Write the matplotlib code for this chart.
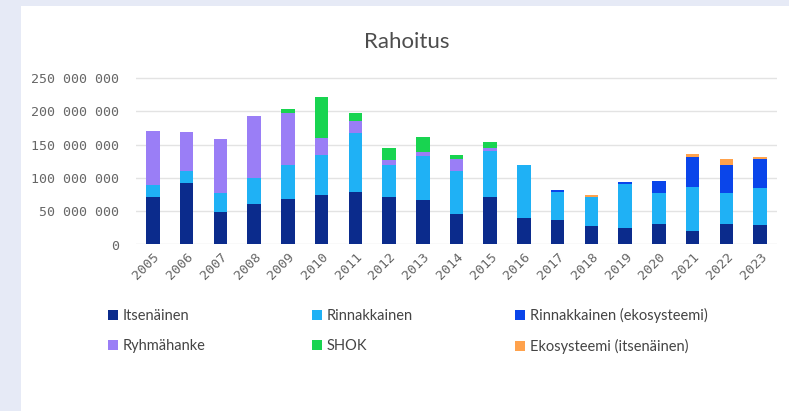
import matplotlib
matplotlib.use("Agg")
import matplotlib.pyplot as plt
from matplotlib.patches import Patch, Rectangle
from matplotlib.ticker import FuncFormatter
import numpy as np

# ---- data (millions of euros) ----
years = [str(y) for y in range(2005, 2024)]
itsenainen = [72, 92, 49, 60, 68, 75, 79, 72, 67, 46, 72, 39, 37, 27, 24, 30, 20, 30, 29]
rinnakkainen = [17, 18, 28, 40, 52, 59, 89, 47, 66, 64, 69, 81, 41.5, 44.4, 66.5, 48, 66.7, 47, 56.5]
rinnakkainen_eko = [0, 0, 0, 0, 0, 0, 0, 0, 0, 0, 0, 0, 3.5, 0, 2.7, 17.5, 45, 43, 42.5]
ryhmahanke = [81.7, 59.3, 81, 92.7, 77, 25.5, 18, 7.3, 6, 17.7, 4, 0, 0, 0, 0, 0, 0, 0, 0]
shok = [0, 0, 0, 0, 6.7, 61.5, 12, 18, 22, 7.3, 8, 0, 0, 0, 0, 0, 0, 0, 0]
ekosysteemi = [0, 0, 0, 0, 0, 0, 0, 0, 0, 0, 0, 0, 0, 3.5, 0, 0, 4, 8, 3.5]

series = [
    ("Itsenäinen", itsenainen, "#0b2b8c"),
    ("Rinnakkainen", rinnakkainen, "#1fb1f5"),
    ("Rinnakkainen (ekosysteemi)", rinnakkainen_eko, "#0a45ea"),
    ("Ryhmähanke", ryhmahanke, "#9a7ef6"),
    ("SHOK", shok, "#18d450"),
    ("Ekosysteemi (itsenäinen)", ekosysteemi, "#ffa24c"),
]

W, H = 789, 411
fig = plt.figure(figsize=(W / 100, H / 100), dpi=100)
fig.patch.set_facecolor("#e6eaf6")
fig.add_artist(Rectangle((21 / W, 0), 1 - 21 / W, 1 - 6 / H, transform=fig.transFigure,
                         facecolor="white", edgecolor="none", zorder=0))

ax = fig.add_axes([136 / W, (H - 244.5) / H, (777 - 136) / W, 168 / H])
ax.set_facecolor("none")

x = np.arange(len(years))
bottom = np.zeros(len(years))
for name, vals, col in series:
    v = np.array(vals) * 1e6
    ax.bar(x, v, bottom=bottom, width=0.4, color=col, zorder=3, linewidth=0)
    bottom += v

ax.set_xlim(-0.5, len(years) - 0.5)
ax.set_ylim(0, 252e6)
ax.set_yticks(np.arange(0, 250e6 + 1, 50e6))
ax.yaxis.set_major_formatter(FuncFormatter(lambda v, p: f"{int(v):,}".replace(",", " ")))
ax.grid(axis="y", color="#e3e3e3", linewidth=1, zorder=0)
for s in ax.spines.values():
    s.set_visible(False)
ax.tick_params(axis="both", length=0, colors="#666666")
ax.tick_params(axis="y", pad=12)
ax.set_xticks(x)
ax.set_xticklabels(years, rotation=45, ha="right", rotation_mode="anchor")
for lab in ax.get_yticklabels() + ax.get_xticklabels():
    lab.set_family("DejaVu Sans Mono")
    lab.set_fontsize(9.5)
    lab.set_color("#666666")
ax.tick_params(axis="x", pad=4)

fig.text(407 / W, (H - 42) / H, "Rahoitus", ha="center", va="center",
         fontsize=16, color="#4d4d4d", family="Lato")

cols_x = [108 / W, 312 / W, 515 / W]
groups = [(0, 3), (1, 4), (2, 5)]
for cx, (a, b) in zip(cols_x, groups):
    handles = [Patch(facecolor=series[i][2], edgecolor="none") for i in (a, b)]
    labels = [series[i][0] for i in (a, b)]
    leg = fig.legend(handles, labels, loc="center left", bbox_to_anchor=(cx, (H - 331.3) / H),
                     frameon=False, borderpad=0, borderaxespad=0, handlelength=0.7,
                     handleheight=0.7, handletextpad=0.3, labelspacing=1.1,
                     prop={"family": "Lato", "size": 10.5})
    for t in leg.get_texts():
        t.set_color("#444444")

fig.savefig("out.png", dpi=100)
